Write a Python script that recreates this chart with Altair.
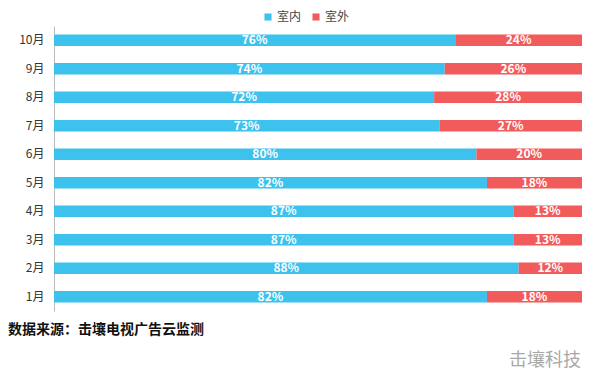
import altair as alt
import pandas as pd

months = ["10月", "9月", "8月", "7月", "6月", "5月", "4月", "3月", "2月", "1月"]
indoor = [76, 74, 72, 73, 80, 82, 87, 87, 88, 82]
outdoor = [24, 26, 28, 27, 20, 18, 13, 13, 12, 18]
series = ["室内", "室外"]
colors = ["#3DC2EE", "#F15B5B"]
source_text = "数据来源：击壤电视广告云监测"
brand_text = "击壤科技"

rows = []
for m, a, b in zip(months, indoor, outdoor):
    rows.append({"month": m, "series": series[0], "start": 0, "end": a, "label": f"{a}%"})
    rows.append({"month": m, "series": series[1], "start": a, "end": a + b, "label": f"{b}%"})
df = pd.DataFrame(rows)
df["mid"] = (df["start"] + df["end"]) / 2

FONT = "Noto Sans CJK SC"

y_enc = alt.Y(
    "month:N",
    sort=months,
    title=None,
    scale=alt.Scale(paddingInner=0.6, paddingOuter=0.3),
    axis=alt.Axis(
        ticks=False,
        domainColor="#BBBBBB",
        labelColor="#333333",
        labelFontSize=12,
        labelFont=FONT,
        labelPadding=10,
    ),
)
x_scale = alt.Scale(domain=[0, 100], nice=False, zero=True)

bars = alt.Chart(df).mark_bar().encode(
    y=y_enc,
    x=alt.X("start:Q", scale=x_scale, axis=None),
    x2="end:Q",
    color=alt.Color(
        "series:N",
        scale=alt.Scale(domain=series, range=colors),
        legend=alt.Legend(
            title=None,
            orient="none",
            direction="horizontal",
            legendX=208,
            legendY=-15,
            symbolType="square",
            symbolSize=50,
            symbolStrokeWidth=0,
            labelFontSize=12,
            labelFont=FONT,
            labelColor="#444444",
            columnPadding=8,
            labelOffset=3,
        ),
    ),
)

labels = alt.Chart(df).mark_text(
    color="white", fontSize=12, font=FONT, fontWeight="bold", baseline="middle"
).encode(
    y=alt.Y("month:N", sort=months),
    x=alt.X("mid:Q", scale=x_scale),
    text="label:N",
)

notes = pd.DataFrame({"t": [source_text]})
source = alt.Chart(notes).mark_text(
    color="#111111", fontSize=14, font=FONT, fontWeight="bold",
    align="left", baseline="middle"
).encode(x=alt.value(-46), y=alt.value(304), text="t:N")

brand = alt.Chart(pd.DataFrame({"t": [brand_text]})).mark_text(
    color="#A8A8A8", fontSize=18, font=FONT, align="right", baseline="middle"
).encode(x=alt.value(527), y=alt.value(335), text="t:N")

chart = (
    alt.layer(bars, labels, source, brand)
    .properties(
        width=528,
        height=285,
        autosize=alt.AutoSizeParams(type="none"),
        padding={"left": 46, "top": 18, "right": 10, "bottom": 70},
    )
    .configure_view(stroke=None)
    .configure_axis(grid=False)
)

chart.save("out.html", embed_options={"renderer": "svg", "actions": False})
